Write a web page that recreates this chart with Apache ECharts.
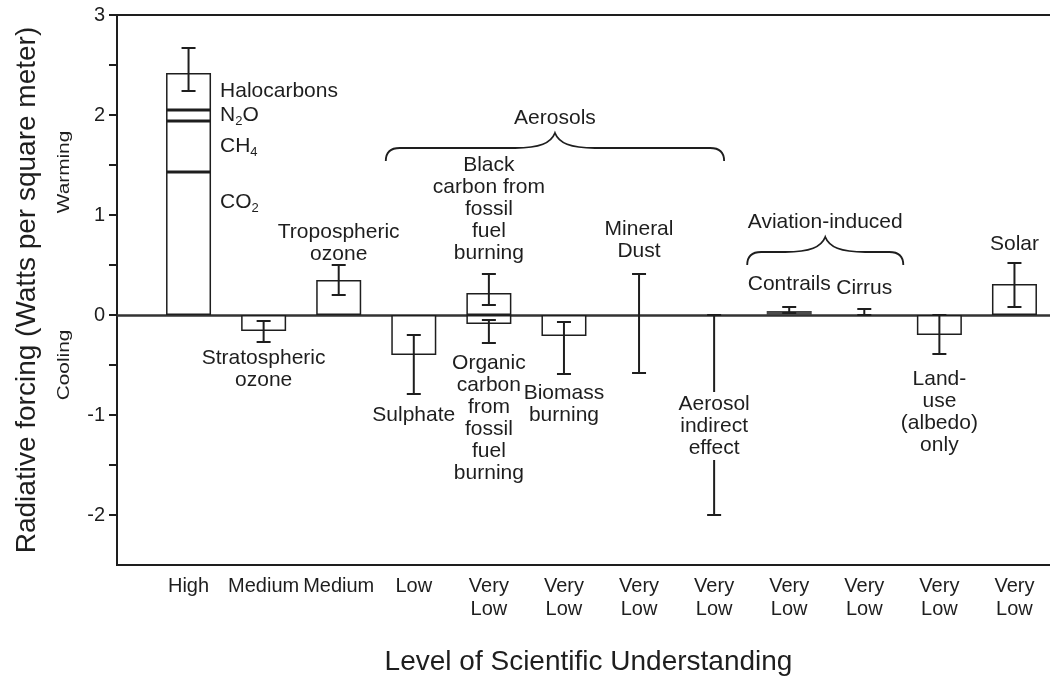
<!DOCTYPE html>
<html>
<head>
<meta charset="utf-8">
<title>Radiative forcing</title>
<script src="https://cdn.jsdelivr.net/npm/echarts@6/dist/echarts.min.js"></script>
<style>
  html, body { margin: 0; padding: 0; background: #fff; }
  #forcingChart { width: 1050px; height: 681px; }
</style>
</head>
<body>
<div id="forcingChart"></div>
<script>
// one slot per forcing agent, left to right
const agents = ['Greenhouse gases', 'Stratospheric ozone', 'Tropospheric ozone', 'Sulphate',
  'Fossil fuel carbon', 'Biomass burning', 'Mineral Dust', 'Aerosol indirect effect',
  'Contrails', 'Cirrus', 'Land-use', 'Solar']
const understanding = ['High', 'Medium', 'Medium', 'Low', 'Very\nLow', 'Very\nLow', 'Very\nLow',
  'Very\nLow', 'Very\nLow', 'Very\nLow', 'Very\nLow', 'Very\nLow']

// well-mixed greenhouse gases, stacked in the first slot
const ghgNames = ['CO2', 'CH4', 'N2O', 'Halocarbons']
const ghgValues = [1.43, 0.51, 0.11, 0.37]

// best estimates (null = only a range is given)
const forcing = [null, -0.16, 0.35, -0.4, 0.22, -0.21, null, null, 0.04, null, -0.2, 0.31]
const rangeLow = [2.24, -0.27, 0.2, -0.79, 0.1, -0.59, -0.58, -2.0, 0.02, 0, -0.39, 0.08]
const rangeHigh = [2.67, -0.06, 0.5, -0.2, 0.41, -0.07, 0.41, 0, 0.08, 0.06, 0, 0.52]

// organic carbon shares the fossil fuel slot with black carbon
const organicSlot = 4
const organicCarbon = -0.09
const organicLow = -0.28
const organicHigh = -0.05

// value axis ticks (no tick at the bottom corner)
const yTicks = [-2, -1.5, -1, -0.5, 0, 0.5, 1, 1.5, 2, 2.5, 3]
const yLabels = [-2, -1, 0, 1, 2, 3]

const ink = '#1e1e1e'
const fontFamily = '"Liberation Sans", Arial, Helvetica, sans-serif'

// text beside each range
const notes = [
  null,
  { text: 'Stratospheric\nozone', side: 'below', gap: 5 },
  { text: 'Tropospheric\nozone', side: 'above', gap: 0 },
  { text: 'Sulphate', side: 'below' },
  { text: 'Black\ncarbon from\nfossil\nfuel\nburning', side: 'above' },
  { text: 'Biomass\nburning', side: 'below', gap: 8 },
  { text: 'Mineral\nDust', side: 'above', gap: 12 },
  { text: 'Aerosol\nindirect\neffect', side: 'middle', gap: 11 },
  { text: 'Contrails', side: 'above', gap: 12 },
  { text: 'Cirrus', side: 'above', gap: 10 },
  { text: 'Land-\nuse\n(albedo)\nonly', side: 'below', gap: 14 },
  { text: 'Solar', side: 'above', gap: 8 }
]
const organicNote = { text: 'Organic\ncarbon\nfrom\nfossil\nfuel\nburning', side: 'below', gap: 9 }

const groups = [
  { text: 'Aerosols', from: 3, to: 7, level: 1.67, pad: [28, 10] },
  { text: 'Aviation-induced', from: 8, to: 9, level: 0.63, pad: [42, 39] }
]

const errorItems = rangeLow.map((lo, i) => ({ value: [i, lo, rangeHigh[i]], note: notes[i] }))
errorItems.push({ value: [organicSlot, organicLow, organicHigh], note: organicNote })

function subscriptRich (name) {
  return '{m|' + name.replace(/(\d)/g, '}{s|$1}{m|') + '}'
}

function renderErrorBar (params, api) {
  const slot = api.value(0)
  const lo = api.coord([slot, api.value(1)])
  const hi = api.coord([slot, api.value(2)])
  const cap = 7
  const stroke = { stroke: ink, lineWidth: 2 }
  const children = [
    { type: 'line', shape: { x1: hi[0], y1: hi[1], x2: lo[0], y2: lo[1] }, style: stroke },
    { type: 'line', shape: { x1: hi[0] - cap, y1: hi[1], x2: hi[0] + cap, y2: hi[1] }, style: stroke },
    { type: 'line', shape: { x1: lo[0] - cap, y1: lo[1], x2: lo[0] + cap, y2: lo[1] }, style: stroke }
  ]
  const note = errorItems[params.dataIndex].note
  if (note) {
    const gap = note.gap === undefined ? 10 : note.gap
    let y = lo[1] + gap
    let va = 'top'
    if (note.side === 'above') {
      y = hi[1] - gap
      va = 'bottom'
    } else if (note.side === 'middle') {
      y = (hi[1] + lo[1]) / 2 + gap
      va = 'middle'
    }
    children.push({
      type: 'text',
      x: hi[0],
      y: y,
      z2: 10,
      style: {
        text: note.text,
        align: 'center',
        verticalAlign: va,
        fontSize: 21,
        fontFamily: fontFamily,
        lineHeight: 22,
        fill: ink,
        backgroundColor: note.side === 'middle' ? '#fff' : 'transparent',
        padding: note.side === 'middle' ? [1, 2] : 0
      }
    })
  }
  return { type: 'group', children: children }
}

function renderBrace (params, api) {
  const g = groups[params.dataIndex]
  const a = api.coord([api.value(0), api.value(2)])
  const b = api.coord([api.value(1), api.value(2)])
  const x0 = a[0] - g.pad[0]
  const x1 = b[0] + g.pad[1]
  const y = a[1]
  const xm = (x0 + x1) / 2
  const tip = 13
  const peak = 15
  const path = [
    'M', x0, y + tip,
    'Q', x0, y, x0 + 14, y,
    'L', xm - 40, y,
    'C', xm - 15, y, xm - 4, y - 5, xm, y - peak,
    'C', xm + 4, y - 5, xm + 15, y, xm + 40, y,
    'L', x1 - 14, y,
    'Q', x1, y, x1, y + tip
  ].join(' ')
  return {
    type: 'group',
    children: [
      { type: 'path', shape: { pathData: path }, style: { stroke: ink, fill: 'none', lineWidth: 1.8 } },
      {
        type: 'text',
        x: xm,
        y: y - peak - 4,
        style: {
          text: g.text, align: 'center', verticalAlign: 'bottom',
          fontSize: 21, fontFamily: fontFamily, fill: ink
        }
      }
    ]
  }
}

const barStyle = { color: '#fff', borderColor: ink, borderWidth: 1.5 }

const ghgSeries = ghgNames.map((name, k) => ({
  name: name,
  type: 'bar',
  stack: 'ghg',
  barWidth: 45,
  barGap: '-100%',
  itemStyle: barStyle,
  data: agents.map((a, i) => (i === 0 ? ghgValues[k] : '-')),
  label: {
    show: true,
    position: 'right',
    distance: 9,
    offset: name === 'CO2' ? [0, -41] : [0, 0],
    formatter: subscriptRich(name),
    rich: {
      m: { fontSize: 21, fontFamily: fontFamily, color: ink, lineHeight: 24 },
      s: { fontSize: 13, fontFamily: fontFamily, color: ink, lineHeight: 13, verticalAlign: 'bottom' }
    }
  },
  silent: true
}))

const option = {
  animation: false,
  textStyle: { fontFamily: fontFamily },
  grid: [
    { left: 151, width: 901, top: 15, bottom: 116, outerBoundsMode: 'none' },
    {
      left: 117, width: 950, top: 15, bottom: 116, outerBoundsMode: 'none',
      show: true, borderColor: ink, borderWidth: 2, backgroundColor: 'transparent'
    }
  ],
  xAxis: [
    {
      type: 'category',
      gridIndex: 0,
      data: understanding,
      axisLine: { show: false },
      axisTick: { show: false },
      axisLabel: { interval: 0, margin: 10, fontSize: 20, lineHeight: 23, color: ink },
      name: 'Level of Scientific Understanding',
      nameLocation: 'middle',
      nameGap: 83,
      nameTextStyle: { fontSize: 28, color: ink, padding: [0, 26, 0, 0] }
    },
    {
      type: 'value',
      gridIndex: 1,
      min: 0,
      max: 1,
      axisLine: { onZero: true, lineStyle: { color: '#333', width: 2.5 } },
      axisTick: { show: false },
      axisLabel: { show: false },
      splitLine: { show: false }
    }
  ],
  yAxis: [
    { type: 'value', gridIndex: 0, min: -2.5, max: 3, show: false },
    {
      type: 'value',
      gridIndex: 1,
      min: -2.5,
      max: 3,
      interval: 0.5,
      axisLine: { show: true, lineStyle: { color: ink, width: 2 } },
      axisTick: { show: true, length: 8, customValues: yTicks, lineStyle: { color: ink, width: 2 } },
      axisLabel: {
        margin: 12,
        fontSize: 20,
        color: ink,
        customValues: yLabels
      },
      splitLine: { show: false },
      name: 'Radiative forcing (Watts per square meter)',
      nameLocation: 'middle',
      nameGap: 76,
      nameTextStyle: { fontSize: 28, color: ink }
    }
  ],
  series: [
    ...ghgSeries,
    {
      name: 'Best estimate',
      type: 'bar',
      barWidth: 45,
      barGap: '-100%',
      silent: true,
      itemStyle: barStyle,
      data: forcing.map((v, i) => {
        if (v === null) return '-'
        if (agents[i] === 'Contrails') return { value: v, itemStyle: { color: '#555', borderColor: '#444' } }
        return v
      })
    },
    {
      name: 'Organic carbon',
      type: 'bar',
      barWidth: 45,
      barGap: '-100%',
      silent: true,
      itemStyle: barStyle,
      data: agents.map((a, i) => (i === organicSlot ? organicCarbon : '-'))
    },
    {
      name: 'Uncertainty',
      type: 'custom',
      silent: true,
      z: 5,
      renderItem: renderErrorBar,
      encode: { x: 0, y: [1, 2] },
      data: errorItems
    },
    {
      name: 'Groups',
      type: 'custom',
      silent: true,
      renderItem: renderBrace,
      encode: { x: [0, 1], y: 2 },
      data: groups.map(g => [g.from, g.to, g.level])
    }
  ]
}

const forcingChart = echarts.init(document.getElementById('forcingChart'))
forcingChart.setOption(option)

// warming / cooling hints beside the value axis
function sideNote (text, value) {
  const y = forcingChart.convertToPixel({ yAxisIndex: 1 }, value)
  return {
    type: 'text',
    x: 65,
    y: y,
    rotation: Math.PI / 2,
    scaleX: 1.3,
    style: { text: text, fontSize: 16, fontFamily: fontFamily, fill: ink, align: 'center', verticalAlign: 'middle' }
  }
}
forcingChart.setOption({ graphic: [sideNote('Warming', 1.43), sideNote('Cooling', -0.5)] })

window.onresize = function () {
  forcingChart.resize()
}
</script>
</body>
</html>
